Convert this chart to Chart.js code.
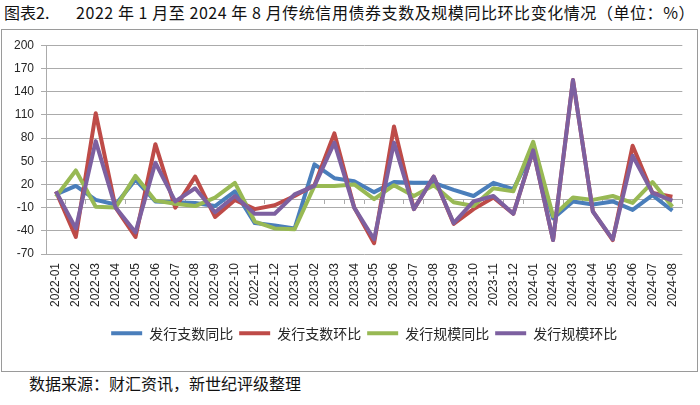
<!DOCTYPE html>
<html><head><meta charset="utf-8">
<script src="https://cdn.jsdelivr.net/npm/chart.js@4.4.1/dist/chart.umd.min.js"></script>
<style>
html,body{margin:0;padding:0;background:#fff;width:700px;height:405px;overflow:hidden;}
.t{position:absolute;font-family:"Noto Sans CJK SC";font-size:16px;color:#111;white-space:pre;line-height:20px;}
#frame{position:absolute;left:1px;top:29px;width:695px;height:341px;border:1px solid #9a9a9a;}
#wrap{position:absolute;left:2px;top:31px;width:694px;height:339px;}
</style></head>
<body>
<div class="t" id="t1" style="left:4px;top:2px;">图表2.</div>
<div class="t" id="t2" style="left:76px;top:2px;">2022 年 1 月至 2024 年 8 月传统信用债券支数及规模同比环比变化情况（单位：%）</div>
<div id="frame"></div>
<div id="wrap"><canvas id="c" width="694" height="339"></canvas></div>
<div class="t" id="foot" style="left:29px;top:373px;">数据来源：财汇资讯，新世纪评级整理</div>
<script>
// fit title width
(function(){
  const el = document.getElementById('t2');
  const target = 619;
  const w = el.getBoundingClientRect().width;
  const n = el.textContent.length;
  el.style.letterSpacing = ((target - w) / n) + 'px';
})();

const categories = ["2022-01","2022-02","2022-03","2022-04","2022-05","2022-06","2022-07","2022-08","2022-09","2022-10","2022-11","2022-12",
  "2023-01","2023-02","2023-03","2023-04","2023-05","2023-06","2023-07","2023-08","2023-09","2023-10","2023-11","2023-12",
  "2024-01","2024-02","2024-03","2024-04","2024-05","2024-06","2024-07","2024-08"];
const seriesNames = ["发行支数同比","发行支数环比","发行规模同比","发行规模环比"];
const countYoY   = [7, 18, 0, -6, 26, -2, -3, -4, -8, 11, -30, -33, -37, 46, 28, 24, 10, 23, 22, 22, 13, 5, 22, 14, 64, -24, -2, -6, -2, -13, 6, -14];
const countMoM   = [11, -48, 112, -10, -48, 72, -10, 30, -22, 0, -12, -7, 5, 19, 86, -10, -56, 95, -12, 30, -31, -12, 3, -18, 64, -52, 155, -15, -52, 70, 9, 4];
const scaleYoY   = [4, 38, -9, -10, 31, -1, -5, -8, 3, 22, -28, -37, -38, 18, 18, 20, 1, 19, 5, 19, -3, -8, 15, 11, 75, -21, 3, 0, 5, -4, 23, -9];
const scaleMoM   = [11, -37, 76, -10, -42, 48, -2, 15, -16, 5, -18, -18, 7, 18, 74, -10, -51, 74, -12, 30, -30, -2, 5, -18, 64, -52, 155, -15, -51, 57, 9, -1];
const yTicks = {min: -70, max: 200, step: 30};

const colors = ['#4A7EBB', '#BE4B48', '#98B954', '#7D60A0'];
const values = [countYoY, countMoM, scaleYoY, scaleMoM];
const drawOrder = [3, 2, 1, 0];
const gridColor = '#ababab';
const textColor = '#262626';

new Chart(document.getElementById('c'), {
  type: 'line',
  data: {
    labels: categories,
    datasets: values.map((v, i) => ({
      label: seriesNames[i],
      data: v,
      borderColor: colors[i],
      backgroundColor: colors[i],
      borderWidth: 4,
      pointRadius: 0,
      pointHoverRadius: 0,
      tension: 0,
      borderJoinStyle: 'round',
      order: drawOrder[i],
      fill: false
    }))
  },
  options: {
    responsive: false,
    animation: false,
    events: [],
    layout: {padding: {left: 0, right: 13, top: 9.7, bottom: 19.7}},
    plugins: {
      tooltip: {enabled: false},
      legend: {
        position: 'bottom',
        fullSize: false,
        labels: {
          usePointStyle: true,
          pointStyle: 'line',
          pointStyleWidth: 31,
          padding: 6,
          color: textColor,
          font: {family: '"Noto Sans CJK SC"', size: 14},
          sort: (a, b) => a.datasetIndex - b.datasetIndex
        }
      }
    },
    scales: {
      x: {
        type: 'category',
        offset: true,
        position: 'bottom',
        grid: {display: false, drawTicks: false},
        border: {display: false},
        ticks: {
          autoSkip: false, minRotation: 90, maxRotation: 90, padding: 9,
          color: textColor, font: {family: '"Liberation Sans"', size: 12}
        },
        afterFit: s => { s.height = 66.3; }
      },
      x2: {
        type: 'category',
        offset: true,
        position: {y: 0},
        grid: {display: true, drawOnChartArea: false, drawTicks: true, tickLength: 4, offset: true, color: gridColor},
        border: {display: true, color: gridColor, width: 1},
        ticks: {display: false}
      },
      y: {
        type: 'linear',
        min: yTicks.min, max: yTicks.max,
        ticks: {stepSize: yTicks.step, padding: 7, color: textColor, font: {family: '"Liberation Sans"', size: 12}},
        grid: {color: gridColor, lineWidth: 1, tickLength: 5, drawTicks: true},
        border: {display: true, color: gridColor, width: 1},
        afterFit: s => { s.width = 44; }
      }
    }
  }
});
</script>
</body></html>
